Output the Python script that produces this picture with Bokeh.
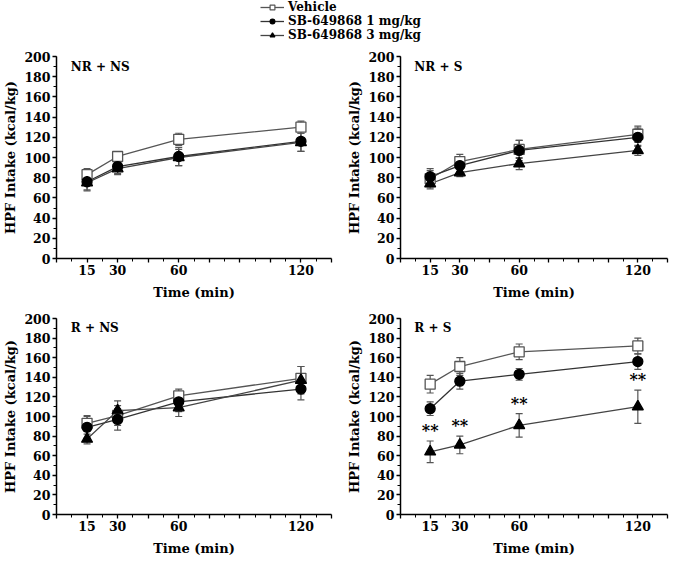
from bokeh.plotting import figure
from bokeh.layouts import column, row
from bokeh.models import (ColumnDataSource, Whisker, TeeHead, Range1d, FixedTicker,
                          SingleIntervalTicker, Label, Legend, LegendItem)
from bokeh.core.properties import value
from bokeh.embed import file_html
from bokeh.resources import INLINE

FONT = "DejaVu Serif"
FONT_VAL = value(FONT)

times = [15, 30, 60, 120]
series_names = ["Vehicle", "SB-649868 1 mg/kg", "SB-649868 3 mg/kg"]
panel_titles = ["NR + NS", "NR + S", "R + NS", "R + S"]

# NR + NS
nrns_veh = [83, 101, 118, 130]
nrns_veh_err = [6, 4, 6, 6]
nrns_sb1 = [76, 91, 101, 116]
nrns_sb1_err = [9, 7, 9, 10]
nrns_sb3 = [75, 89, 100, 115]
nrns_sb3_err = [7, 6, 8, 9]
# NR + S
nrs_veh = [79, 96, 108, 123]
nrs_veh_err = [8, 7, 9, 8]
nrs_sb1 = [81, 92, 107, 120]
nrs_sb1_err = [8, 9, 10, 9]
nrs_sb3 = [74, 85, 94, 107]
nrs_sb3_err = [5, 4, 6, 5]
# R + NS
rns_veh = [93, 101, 121, 139]
rns_veh_err = [8, 10, 7, 12]
rns_sb1 = [89, 97, 115, 128]
rns_sb1_err = [11, 11, 10, 11]
rns_sb3 = [77, 106, 109, 137]
rns_sb3_err = [5, 10, 9, 14]
# R + S
rs_veh = [133, 151, 166, 172]
rs_veh_err = [9, 9, 8, 8]
rs_sb1 = [108, 136, 143, 156]
rs_sb1_err = [7, 8, 6, 8]
rs_sb3 = [64, 71, 91, 110]
rs_sb3_err = [11, 9, 12, 17]
rs_sig = ["**", "**", "**", "**"]

x_major = [0, 15, 30, 45, 60, 75, 90, 105, 120, 135]
x_minor = [7.5, 22.5, 37.5, 52.5, 67.5, 82.5, 97.5, 112.5, 127.5]
x_labels = [15, 30, 60, 120]

panels = [
    (nrns_veh, nrns_veh_err, nrns_sb1, nrns_sb1_err, nrns_sb3, nrns_sb3_err, None),
    (nrs_veh, nrs_veh_err, nrs_sb1, nrs_sb1_err, nrs_sb3, nrs_sb3_err, None),
    (rns_veh, rns_veh_err, rns_sb1, rns_sb1_err, rns_sb3, rns_sb3_err, None),
    (rs_veh, rs_veh_err, rs_sb1, rs_sb1_err, rs_sb3, rs_sb3_err, rs_sig),
]

styles = [
    dict(marker="square", size=10, fill_color="white", line_color="#555555", lc="#555555"),
    dict(marker="circle", size=10, fill_color="black", line_color="black", lc="#333333"),
    dict(marker="triangle", size=11, fill_color="black", line_color="black", lc="#444444"),
]


def make_panel(idx, data, width, height, bl, br, bt, bb):
    p = figure(width=width, height=height, output_backend="svg", toolbar_location=None,
               x_range=Range1d(0, 135), y_range=Range1d(0, 200),
               min_border_left=bl, min_border_right=br, min_border_top=bt,
               min_border_bottom=bb)
    p.outline_line_color = None
    p.xgrid.visible = False
    p.ygrid.visible = False
    for ax in (p.xaxis[0], p.yaxis[0]):
        ax.axis_line_width = 1.5
        ax.axis_line_color = "black"
        ax.major_tick_line_width = 1.3
        ax.minor_tick_line_width = 1
        ax.major_tick_out = 4
        ax.major_tick_in = 0
        ax.minor_tick_out = 3
        ax.minor_tick_in = 0
        ax.major_label_text_font = FONT
        ax.major_label_text_font_style = "bold"
        ax.major_label_text_font_size = "12.5px"
        ax.major_label_text_color = "black"
        ax.axis_label_text_font = FONT
        ax.axis_label_text_font_style = "bold"
        ax.axis_label_text_font_size = "13px"
        ax.axis_label_text_color = "black"
        ax.major_label_standoff = 2
    p.xaxis.ticker = FixedTicker(ticks=x_major, minor_ticks=x_minor)
    p.xaxis.major_label_overrides = {t: ("" if t not in x_labels else str(t)) for t in x_major}
    p.yaxis.ticker = SingleIntervalTicker(interval=20, num_minor_ticks=2)
    p.xaxis.axis_label = "Time (min)"
    p.yaxis.axis_label = "HPF Intake (kcal/kg)"
    p.xaxis.axis_label_standoff = 7
    p.yaxis.axis_label_standoff = 3

    veh, veh_e, sb1, sb1_e, sb3, sb3_e, sig = data
    series = [(veh, veh_e), (sb1, sb1_e), (sb3, sb3_e)]
    for (vals, errs), st in zip(series, styles):
        src = ColumnDataSource(dict(x=times,
                                    upper=[v + e for v, e in zip(vals, errs)],
                                    lower=[v - e for v, e in zip(vals, errs)]))
        w = Whisker(source=src, base="x", upper="upper", lower="lower",
                    line_color="#555555", line_width=1.2,
                    upper_head=TeeHead(size=7, line_color="#555555", line_width=1.2),
                    lower_head=TeeHead(size=7, line_color="#555555", line_width=1.2))
        p.add_layout(w)
    for (vals, errs), st in zip(series, styles):
        p.line(times, vals, line_color=st["lc"], line_width=1.3)
    for (vals, errs), st in zip(series, styles):
        p.scatter(times, vals, marker=st["marker"], size=st["size"],
                  fill_color=st["fill_color"], line_color=st["line_color"], line_width=1.3)
    if sig is not None:
        p.text(x=times, y=[v + e for v, e in zip(sb3, sb3_e)], text=sig,
               text_align="center", text_baseline="bottom", y_offset=-1,
               text_font=FONT_VAL, text_font_size="16px", text_font_style="bold",
               text_color="black")
    lab = Label(x=7, y=197, text=panel_titles[idx], text_font=FONT,
                text_font_style="bold", text_font_size="12px", text_baseline="top",
                text_color="black")
    p.add_layout(lab)
    return p


# legend figure (dummy points lie outside the visible range; only the legend shows)
leg = figure(width=669, height=42, output_backend="svg", toolbar_location=None,
             x_range=Range1d(0, 1), y_range=Range1d(0, 1),
             min_border_left=0, min_border_right=0, min_border_top=0, min_border_bottom=0)
leg.axis.visible = False
leg.xgrid.visible = False
leg.ygrid.visible = False
leg.outline_line_color = None
items = []
for name, st in zip(series_names, styles):
    src = ColumnDataSource(dict(x=[-10], y=[-10]))
    lr = leg.line("x", "y", source=src, line_color=st["lc"], line_width=1.3)
    sr = leg.scatter("x", "y", source=src, marker=st["marker"], size=6,
                     fill_color=st["fill_color"], line_color=st["line_color"], line_width=1.2)
    items.append(LegendItem(label=name, renderers=[lr, sr]))
legend = Legend(items=items, padding=0, spacing=0, margin=0,
                glyph_width=24, glyph_height=12, label_height=12, label_standoff=4,
                label_text_font=FONT, label_text_font_style="bold",
                label_text_font_size="12px", label_text_color="black",
                border_line_alpha=0, background_fill_alpha=0)
legend.location = (260, 0)
leg.add_layout(legend)

p1 = make_panel(0, panels[0], 334, 260, 45, 3, 14, 44)
p2 = make_panel(1, panels[1], 335, 260, 66, 2, 14, 44)
p3 = make_panel(2, panels[2], 334, 256, 45, 3, 16, 40)
p4 = make_panel(3, panels[3], 335, 256, 66, 2, 16, 40)

layout = column(leg, row(p1, p2), row(p3, p4))
open("out.html", "w").write(file_html(layout, INLINE))
